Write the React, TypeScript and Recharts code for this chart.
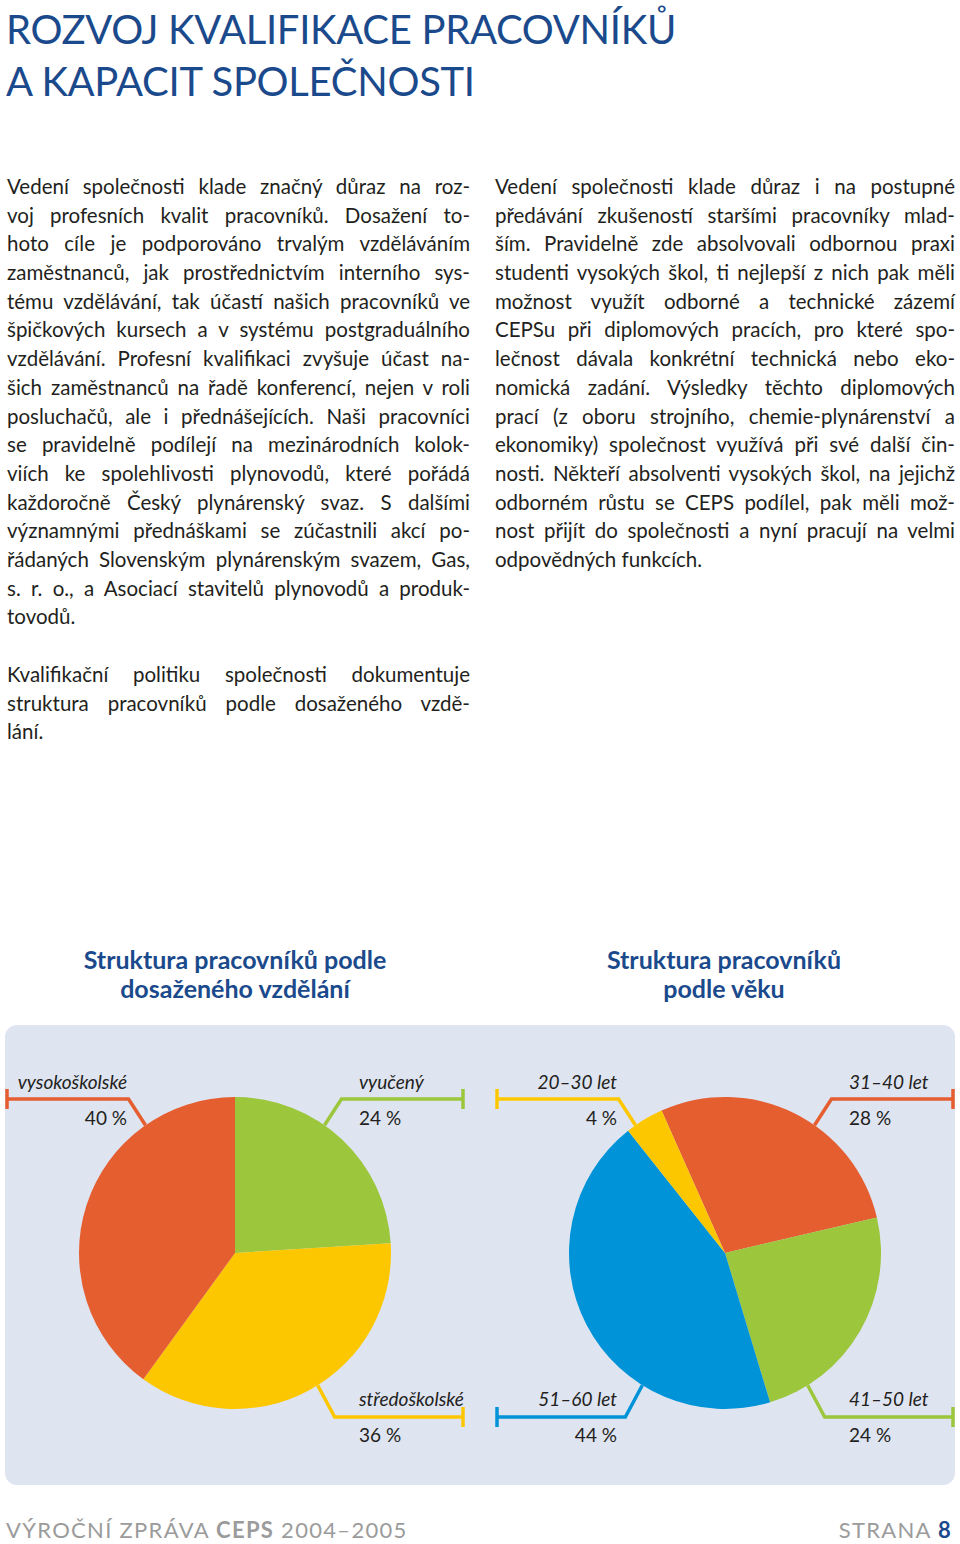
import React from 'react'
import { PieChart, Pie, Cell } from 'recharts'

// chart data
const eduNames = ['vyučený', 'středoškolské', 'vysokoškolské']
const eduValues = [24, 36, 40]
const eduColors = ['#9cc63c', '#fdc700', '#e55e30']

const ageNames = ['31–40 let', '41–50 let', '51–60 let', '20–30 let']
const ageValues = [28, 24, 44, 4]
const ageColors = ['#e55e30', '#9cc63c', '#0093d7', '#fdc700']

const eduData = eduNames.map((name, i) => ({ name, value: eduValues[i] }))
const ageData = ageNames.map((name, i) => ({ name, value: ageValues[i] }))

// page text
const leftPara1 = [
  'Vedení společnosti klade značný důraz na roz-',
  'voj profesních kvalit pracovníků. Dosažení to-',
  'hoto cíle je podporováno trvalým vzděláváním',
  'zaměstnanců, jak prostřednictvím interního sys-',
  'tému vzdělávání, tak účastí našich pracovníků ve',
  'špičkových kursech a v systému postgraduálního',
  'vzdělávání. Profesní kvalifikaci zvyšuje účast na-',
  'šich zaměstnanců na řadě konferencí, nejen v roli',
  'posluchačů, ale i přednášejících. Naši pracovníci',
  'se pravidelně podílejí na mezinárodních kolok-',
  'viích ke spolehlivosti plynovodů, které pořádá',
  'každoročně Český plynárenský svaz. S dalšími',
  'významnými přednáškami se zúčastnili akcí po-',
  'řádaných Slovenským plynárenským svazem, Gas,',
  's. r. o., a Asociací stavitelů plynovodů a produk-',
  'tovodů.',
]
const leftPara2 = [
  'Kvalifikační politiku společnosti dokumentuje',
  'struktura pracovníků podle dosaženého vzdě-',
  'lání.',
]
const rightPara = [
  'Vedení společnosti klade důraz i na postupné',
  'předávání zkušeností staršími pracovníky mlad-',
  'ším. Pravidelně zde absolvovali odbornou praxi',
  'studenti vysokých škol, ti nejlepší z nich pak měli',
  'možnost využít odborné a technické zázemí',
  'CEPSu při diplomových pracích, pro které spo-',
  'lečnost dávala konkrétní technická nebo eko-',
  'nomická zadání. Výsledky těchto diplomových',
  'prací (z oboru strojního, chemie-plynárenství a',
  'ekonomiky) společnost využívá při své další čin-',
  'nosti. Někteří absolventi vysokých škol, na jejichž',
  'odborném růstu se CEPS podílel, pak měli mož-',
  'nost přijít do společnosti a nyní pracují na velmi',
  'odpovědných funkcích.',
]

const FONT = 'Lato, "Open Sans", sans-serif'
const BLUE = '#1b4a8c'
const RAD = Math.PI / 180

function Paragraph({ lines, left, top, width }: { lines: string[]; left: number; top: number; width: number }) {
  return (
    <div style={{ position: 'absolute', left, top, width }}>
      {lines.map((line, i) => (
        <div
          key={i}
          style={{
            height: 28.7,
            lineHeight: '28.7px',
            fontSize: 20.5,
            whiteSpace: 'nowrap',
            textAlign: 'justify',
            textAlignLast: i === lines.length - 1 ? 'left' : 'justify',
            color: '#231f20',
          }}
        >
          {line}
        </div>
      ))}
    </div>
  )
}

// callout label: elbow line to the nearest corner, tick at the end
const renderCallout = (props: any) => {
  const { cx, cy, midAngle, outerRadius, fill, value } = props
  const name = props.name ?? props.payload?.name
  const sx = Math.cos(midAngle * RAD) >= 0 ? 1 : -1
  const top = Math.sin(midAngle * RAD) >= 0
  const a = (top ? 35 : 148) * RAD
  const ax = cx + sx * outerRadius * Math.sin(a)
  const ay = cy - outerRadius * Math.cos(a)
  const ey = top ? cy - 154 : cy + 164
  const ex = cx + sx * (outerRadius * Math.sin(a) + 17)
  const tx = cx + sx * 228
  const lx = sx > 0 ? cx + 124 : cx - 108
  const anchor = sx > 0 ? 'start' : 'end'
  const nameY = top ? cy - 164 : cy + 153
  const pctY = top ? cy - 128 : cy + 189
  return (
    <g>
      <path
        d={`M${ax},${ay}L${ex},${ey}L${tx},${ey}M${tx},${ey - 10}L${tx},${ey + 10}`}
        stroke={fill}
        strokeWidth={3.5}
        fill="none"
      />
      <text x={lx} y={nameY} textAnchor={anchor} fontStyle="italic" fontSize={19} fill="#231f20" fontFamily={FONT}>
        {name}
      </text>
      <text x={lx} y={pctY} textAnchor={anchor} fontSize={19} fill="#231f20" fontFamily={FONT}>
        {`${value} %`}
      </text>
    </g>
  )
}

export default function App() {
  return (
    <div style={{ position: 'absolute', left: 0, top: 0, width: 960, height: 1544, background: '#fff', fontFamily: FONT, overflow: 'hidden' }}>
      <div style={{ position: 'absolute', left: 6, top: 3, fontSize: 40, lineHeight: '52px', color: BLUE, letterSpacing: -0.3 }}>
        <div>ROZVOJ KVALIFIKACE PRACOVNÍKŮ</div>
        <div>A KAPACIT SPOLEČNOSTI</div>
      </div>

      <Paragraph lines={leftPara1} left={7} top={172} width={463} />
      <Paragraph lines={leftPara2} left={7} top={660} width={463} />
      <Paragraph lines={rightPara} left={495} top={172} width={460} />

      <div style={{ position: 'absolute', left: 35, width: 400, top: 945, textAlign: 'center', fontWeight: 700, fontSize: 25, lineHeight: '29px', color: BLUE }}>
        Struktura pracovníků podle<br />dosaženého vzdělání
      </div>
      <div style={{ position: 'absolute', left: 524, width: 400, top: 945, textAlign: 'center', fontWeight: 700, fontSize: 25, lineHeight: '29px', color: BLUE }}>
        Struktura pracovníků<br />podle věku
      </div>

      <div style={{ position: 'absolute', left: 5, top: 1025, width: 950, height: 460, background: '#dfe4f1', borderRadius: 12 }}>
        <PieChart width={950} height={460} margin={{ top: 0, right: 0, bottom: 0, left: 0 }}>
          <Pie
            data={eduData}
            dataKey="value"
            nameKey="name"
            cx={230}
            cy={228}
            outerRadius={156}
            startAngle={90}
            endAngle={-270}
            stroke="none"
            label={renderCallout}
            labelLine={false}
            isAnimationActive={false}
          >
            {eduData.map((d, i) => (
              <Cell key={d.name} fill={eduColors[i]} />
            ))}
          </Pie>
          <Pie
            data={ageData}
            dataKey="value"
            nameKey="name"
            cx={720}
            cy={228}
            outerRadius={156}
            startAngle={114}
            endAngle={-246}
            stroke="none"
            label={renderCallout}
            labelLine={false}
            isAnimationActive={false}
          >
            {ageData.map((d, i) => (
              <Cell key={d.name} fill={ageColors[i]} />
            ))}
          </Pie>
        </PieChart>
      </div>

      <div style={{ position: 'absolute', left: 6, top: 1518, fontSize: 22, lineHeight: '24px', color: '#9b9b9b', letterSpacing: 1.3 }}>
        VÝROČNÍ ZPRÁVA <b>CEPS</b> 2004–2005
      </div>
      <div style={{ position: 'absolute', right: 8, top: 1518, fontSize: 22, lineHeight: '24px', color: '#9b9b9b', letterSpacing: 1.3 }}>
        STRANA <b style={{ color: BLUE }}>8</b>
      </div>
    </div>
  )
}
